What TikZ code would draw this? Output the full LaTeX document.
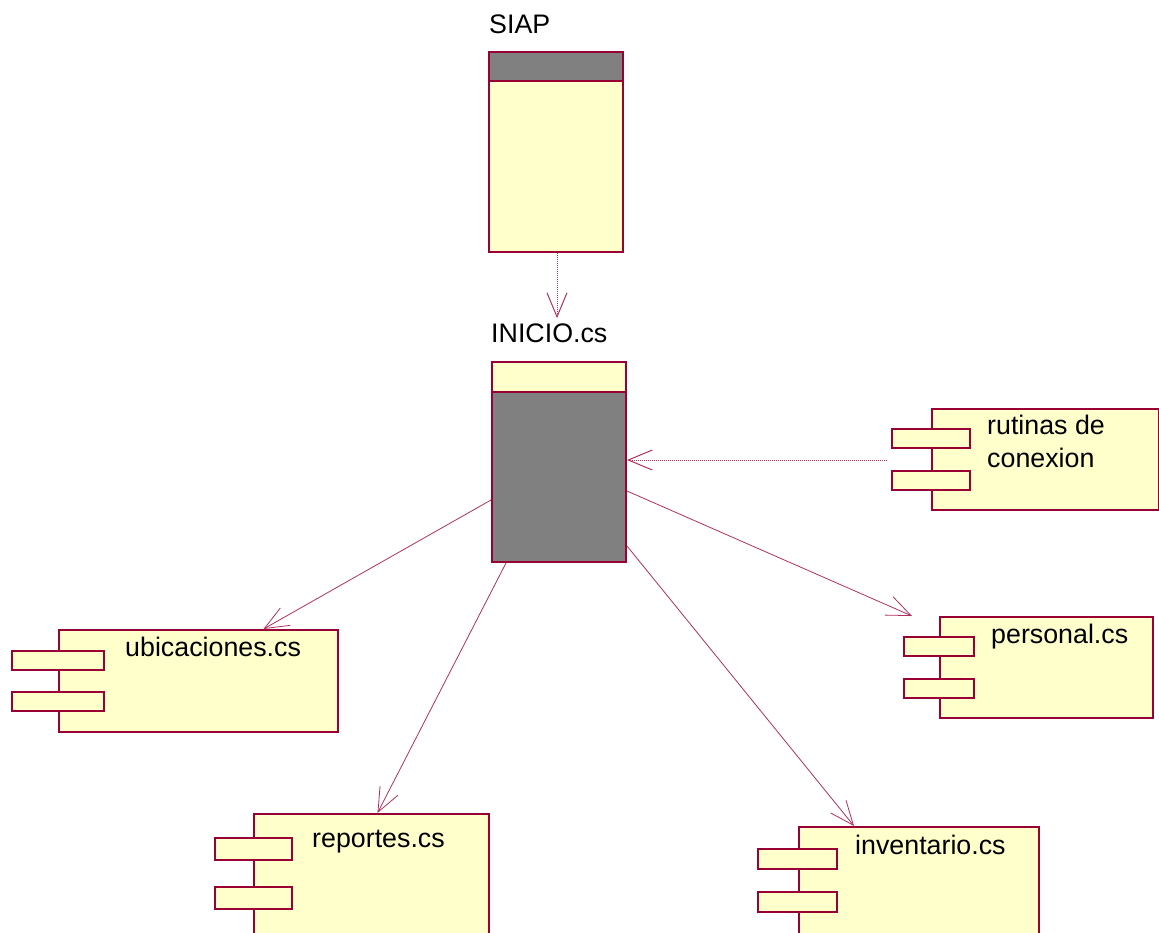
\documentclass[tikz,border=0pt]{standalone}
\usepackage{fontspec}
\setmainfont{Liberation Sans}
\usepackage{xcolor}
\usetikzlibrary{arrows.meta,positioning,calc}

\definecolor{umlred}{HTML}{990033}
\definecolor{umlline}{HTML}{B0305E}
\definecolor{umlfill}{HTML}{FFFFCC}
\definecolor{umlgray}{HTML}{808080}

\tikzset{
  box/.style={draw=umlred, line width=2pt, fill=umlfill, inner sep=0pt, anchor=north west},
  graybox/.style={box, fill=umlgray},
  port/.style={box, minimum height=19pt},
  lbl/.style={font=\fontsize{26.8}{32}\selectfont, inner sep=0pt, anchor=base west},
  uses/.style={draw=umlline, line width=0.8pt, -{Straight Barb[length=24pt, width=20pt]}},
  dep/.style={uses, line width=1pt, dash pattern=on 1.2pt off 0.8pt}
}

\begin{document}
\begin{tikzpicture}[x=1pt, y=-1pt]
    \useasboundingbox (0,0) rectangle (1159,932);

    % SIAP
    \node[lbl] (siaplbl) at (489,33) {SIAP};
    \node[graybox, minimum width=134pt, minimum height=29pt] (siaphead) at (488,51) {};
    \node[box, minimum width=134pt, minimum height=171pt] (siap) at (488,80) {};

    % INICIO.cs
    \node[lbl] (iniciolbl) at (491,342) {INICIO.cs};
    \node[box, minimum width=134pt, minimum height=30pt] (iniciohead) at (491,361) {};
    \node[graybox, minimum width=134pt, minimum height=170pt] (inicio) at (491,391) {};

    % rutinas de conexion
    \node[box, minimum width=227pt, minimum height=101pt] (rutinas) at (931,408) {};
    \node[port, minimum width=78pt] (rutinasp1) at (891,428) {};
    \node[port, minimum width=78pt] (rutinasp2) at (891,470) {};
    \node[lbl] (rutinaslbl1) at (987,434) {rutinas de};
    \node[lbl] (rutinaslbl2) at (987,467) {conexion};

    % personal.cs
    \node[box, minimum width=213pt, minimum height=101pt] (personal) at (939,616) {};
    \node[port, minimum width=70pt] (personalp1) at (903,636) {};
    \node[port, minimum width=70pt] (personalp2) at (903,678) {};
    \node[lbl] (personallbl) at (991,643) {personal.cs};

    % ubicaciones.cs
    \node[box, minimum width=279pt, minimum height=102pt] (ubic) at (58,629) {};
    \node[port, minimum width=92pt] (ubicp1) at (11,650) {};
    \node[port, minimum width=92pt] (ubicp2) at (11,691) {};
    \node[lbl] (ubiclbl) at (125,656) {ubicaciones.cs};

    % reportes.cs
    \node[box, minimum width=235pt, minimum height=130pt] (reportes) at (253,813) {};
    \node[port, minimum width=77pt, minimum height=22pt] (reportesp1) at (214,837) {};
    \node[port, minimum width=77pt, minimum height=22pt] (reportesp2) at (214,886) {};
    \node[lbl] (reporteslbl) at (312,847) {reportes.cs};

    % inventario.cs
    \node[box, minimum width=240pt, minimum height=120pt] (inventario) at (798,826) {};
    \node[port, minimum width=79pt, minimum height=20pt] (inventariop1) at (757,848) {};
    \node[port, minimum width=79pt, minimum height=20pt] (inventariop2) at (757,891) {};
    \node[lbl] (inventariolbl) at (855,854) {inventario.cs};

    % dependencias
    \draw[dep] ([xshift=1pt]siap.south) -- ([xshift=1pt, yshift=5pt]iniciolbl.north -| siap.south);
    \draw[dep] ([xshift=-4pt, yshift=17pt]rutinasp1.west |- inicio.east) -- ([yshift=17pt]inicio.east);
    \draw[uses] ([yshift=-23pt]inicio.west) -- ([xshift=65pt]ubic.north);
    \draw[uses] ([xshift=15pt]inicio.south west) -- ([xshift=6pt]reportes.north);
    \draw[uses] ([yshift=-69pt]inicio.east) -- ([xshift=-65pt]inventario.north);
    \draw[uses] ([yshift=-14pt]inicio.east) -- ([xshift=-27pt]personal.north west);
\end{tikzpicture}
\end{document}
